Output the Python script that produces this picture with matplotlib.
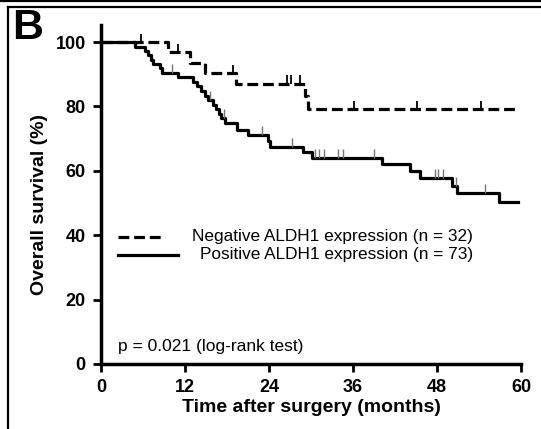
import numpy as np
import matplotlib
matplotlib.use("Agg")
import matplotlib.pyplot as plt
from matplotlib.lines import Line2D

plt.rcParams['font.family'] = ['Liberation Sans', 'DejaVu Sans']

# ---- data ----
neg_times = [0, 9.5, 12.7, 14.8, 19.3, 29.1, 29.6]
neg_surv = [100, 96.8, 93.6, 90.4, 87.1, 83.1, 79.1]
neg_censor = [5.7, 11.0, 18.9, 26.6, 27.1, 28.4, 36.1, 45.1, 54.3]
neg_end = 59.6

pos_times = [0, 4.8, 6.3, 6.7, 7.1, 7.4, 8.4, 8.7, 11.0, 13.2, 13.7, 14.3, 14.8,
             15.3, 16.0, 16.4, 16.8, 17.2, 17.7, 19.4, 21.0, 23.8, 24.1, 28.9,
             30.1, 40.1, 44.1, 45.6, 50.1, 50.8, 56.8]
pos_surv = [100, 98.6, 97.3, 95.9, 94.5, 93.2, 91.8, 90.4, 89.0, 87.6, 86.2, 84.8,
            83.4, 82.0, 80.6, 79.2, 77.8, 76.4, 74.9, 72.6, 71.0, 69.3, 67.5, 65.7,
            63.9, 62.0, 59.9, 57.7, 55.4, 53.0, 50.4]
pos_censor = [10.2, 15.6, 17.55, 23.0, 27.3, 30.5, 31.2, 31.8, 33.9, 34.6, 39.0,
              47.7, 48.2, 48.8, 50.75, 54.8]
pos_end = 59.5

x_ticks = [0, 12, 24, 36, 48, 60]
y_ticks = [0, 20, 40, 60, 80, 100]
neg_label = "Negative ALDH1 expression (n = 32)"
pos_label = "Positive ALDH1 expression (n = 73)"
p_text = "p = 0.021 (log-rank test)"


def step_xy(times, surv, end):
    x = list(times) + [end]
    y = list(surv) + [surv[-1]]
    return x, y


def surv_at(times, surv, t):
    idx = np.searchsorted(times, t, side='right') - 1
    return np.asarray(surv)[idx]


fig = plt.figure(figsize=(5.41, 4.29), dpi=100)
ax = fig.add_axes([101 / 541, 65 / 429, 420 / 541, 339 / 429])

lw = 2.3
nx, ny = step_xy(neg_times, neg_surv, neg_end)
ax.step(nx, ny, where='post', color='black', lw=lw, linestyle=(0, (3.4, 1.5)))
px, py = step_xy(pos_times, pos_surv, pos_end)
ax.step(px, py, where='post', color='black', lw=lw)

# censor marks
for t in neg_censor:
    s = surv_at(neg_times, neg_surv, t)
    ax.vlines(t, s, s + 2.6, color='black', lw=1.3)
for t in pos_censor:
    s = surv_at(pos_times, pos_surv, t)
    ax.vlines(t, s, s + 2.8, color='#777777', lw=1.0)

ax.set_xlim(0, 60)
ax.set_ylim(0, 105.3)
ax.set_xticks(x_ticks)
ax.set_yticks(y_ticks)
ax.set_xticklabels([str(v) for v in x_ticks], fontsize=13, fontweight='bold')
ax.set_yticklabels([str(v) for v in y_ticks], fontsize=13, fontweight='bold')
ax.tick_params(direction='out', length=6, width=2, pad=5)
for side in ['top', 'right']:
    ax.spines[side].set_visible(False)
for side in ['left', 'bottom']:
    ax.spines[side].set_linewidth(2.5)
ax.set_xlabel("Time after surgery (months)", fontsize=14, fontweight='bold', labelpad=2)
ax.set_ylabel("Overall survival (%)", fontsize=14, fontweight='bold')
ax.yaxis.set_label_coords(-0.125, 0.47)

# legend (manual)
ax.plot([2.4, 9.2], [39.5, 39.5], color='black', lw=lw, linestyle=(0, (3.4, 1.5)))
ax.plot([2.4, 11.0], [34.0, 34.0], color='black', lw=lw)
ax.text(53.1, 39.5, neg_label, ha='right', va='center', fontsize=12.4)
ax.text(53.1, 34.0, pos_label, ha='right', va='center', fontsize=12.4)
ax.text(2.4, 5.3, p_text, ha='left', va='center', fontsize=12.5)

# panel letter
fig.text(12 / 541, 1 - 28 / 429, "B", fontsize=31, fontweight='bold', ha='left', va='center')

# outer frame lines
fig.add_artist(Line2D([0, 1], [1 - 1 / 429, 1 - 1 / 429], color='black', lw=1.6, transform=fig.transFigure))
fig.add_artist(Line2D([8 / 541, 1], [1 - 7 / 429, 1 - 7 / 429], color='black', lw=1.6, transform=fig.transFigure))
fig.add_artist(Line2D([8 / 541, 8 / 541], [0, 1 - 7 / 429], color='black', lw=1.6, transform=fig.transFigure))

fig.savefig("out.png", dpi=100)
